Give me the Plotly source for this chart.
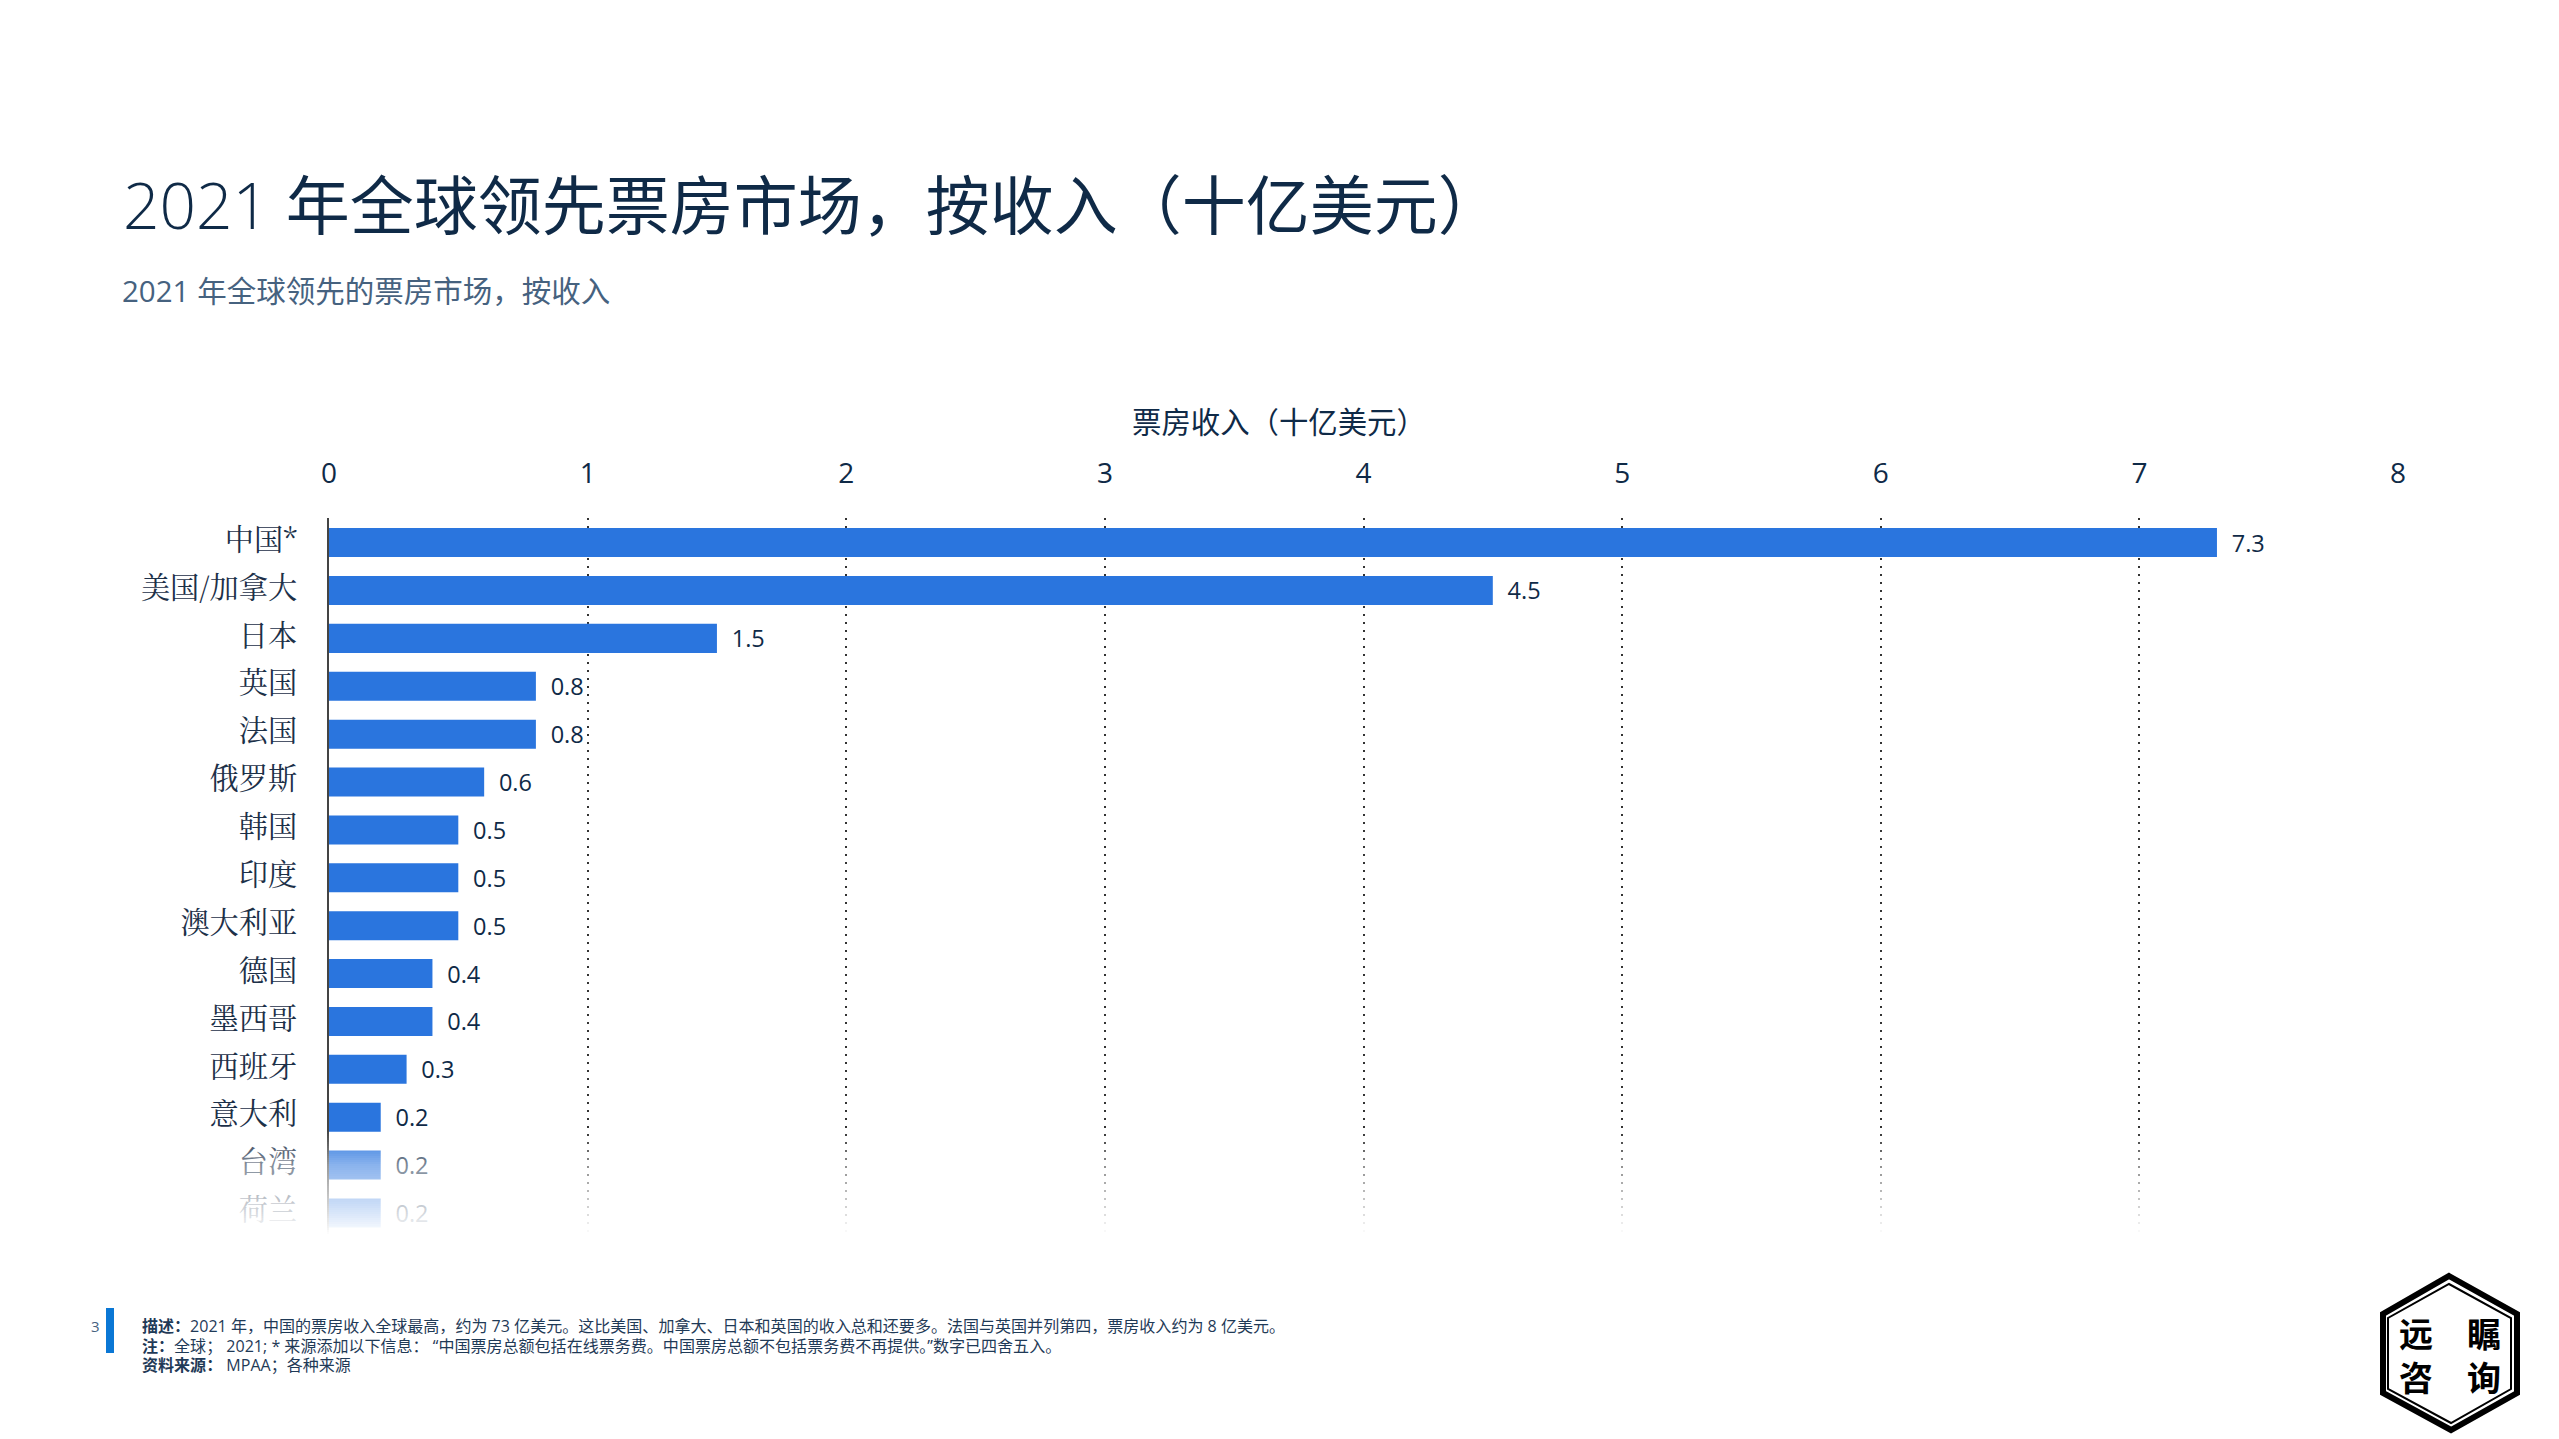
"""2021 leading box office markets, horizontal bars with a faded tail and a slide footer."""
import numpy as np
import plotly.graph_objects as go

W, H = 2559, 1439
PLOT_L, PLOT_R, PLOT_T, PLOT_B = 329, 2398, 518, 1235

INK = "#0f2a47"
BLUE = "#2a75de"
SANS = "Open Sans, Noto Sans CJK SC, sans-serif"
SERIF = "Noto Serif CJK SC, Liberation Serif, serif"
CJK = "Noto Sans CJK SC, sans-serif"

markets = ["中国*", "美国/加拿大", "日本", "英国", "法国", "俄罗斯", "韩国", "印度",
           "澳大利亚", "德国", "墨西哥", "西班牙", "意大利", "台湾", "荷兰"]
revenue = [7.3, 4.5, 1.5, 0.8, 0.8, 0.6, 0.5, 0.5, 0.5, 0.4, 0.4, 0.3, 0.2, 0.2, 0.2]
x_ticks = [0, 1, 2, 3, 4, 5, 6, 7, 8]

title_text = "<span style='font-weight:300'>2021 </span>年全球领先票房市场，按收入（十亿美元）"
subtitle_text = "2021 年全球领先的票房市场，按收入"
axis_text = "票房收入（十亿美元）"
footer_lines = [
    "<b>描述：</b>2021 年，中国的票房收入全球最高，约为 73 亿美元。这比美国、加拿大、日本和英国的收入总和还要多。法国与英国并列第四，票房收入约为 8 亿美元。",
    "<b>注：</b>全球； 2021; * 来源添加以下信息： “中国票房总额包括在线票务费。中国票房总额不包括票务费不再提供。”数字已四舍五入。",
    "<b>资料来源：</b> MPAA；各种来源",
]
logo_text = "<b>远\u2003瞩<br>咨\u2003询</b>"


def px(x):
    return (x - PLOT_L) / (PLOT_R - PLOT_L)


def py(y):
    return (PLOT_B - y) / (PLOT_B - PLOT_T)


def label(text, x, y, size, color=INK, family=SANS, anchor="left"):
    return dict(text=text, x=px(x), y=py(y), xref="paper", yref="paper", showarrow=False,
                xanchor=anchor, yanchor="middle", align=anchor,
                font=dict(size=size, color=color, family=family))


def hexagon(points, width):
    path = "M " + " L ".join(f"{px(x)} {py(y)}" for x, y in points) + " Z"
    return dict(type="path", path=path, xref="paper", yref="paper",
                line=dict(color="#000000", width=width))


fig = go.Figure(go.Bar(
    x=revenue, y=markets, orientation="h",
    marker=dict(color=BLUE, line_width=0),
    text=[f"\u2002{v}" for v in revenue], textposition="outside", cliponaxis=False,
    constraintext="none",
    textfont=dict(size=23.5, color=INK, family=SANS),
    width=0.606,
))

shapes = []

# white bands fade out the last two rows, plotly shapes have no gradient fill
band_tops = np.arange(1130, 1236, 2)
for top in band_tops:
    alpha = np.interp(top, [1130, 1164, 1212, 1234], [0.0, 0.45, 0.82, 1.0])
    shapes.append(dict(type="rect", xref="paper", yref="paper", layer="above",
                       x0=px(0), x1=px(W), y0=py(top), y1=py(top + 2),
                       fillcolor="#ffffff", opacity=float(alpha), line_width=0))

# footer marker
shapes.append(dict(type="rect", xref="paper", yref="paper",
                   x0=px(106), x1=px(114), y0=py(1308), y1=py(1353),
                   fillcolor="#0a77d5", line_width=0))

# logo
shapes.append(hexagon([(2449, 1276), (2517, 1314), (2517, 1393), (2451, 1430), (2383, 1393), (2383, 1314)], 6))
shapes.append(hexagon([(2449, 1284), (2511, 1318), (2511, 1389), (2451, 1423), (2388, 1389), (2388, 1318)], 2))

annotations = [
    label(title_text, 121, 204, 64),
    label(subtitle_text, 120, 291, 29.5, color="#46627f"),
    label(axis_text, 1279, 422, 29.4, anchor="center"),
    label("3", 95, 1326, 15, color="#46627f", anchor="center"),
    label(logo_text, 2450, 1354, 34, color="#000000", family=CJK, anchor="center"),
]
for i, line in enumerate(footer_lines):
    annotations.append(label(line, 140, 1326 + 19.5 * i, 16.05, color="#1f3a57"))

fig.update_layout(
    width=W, height=H, autosize=False,
    margin=dict(l=PLOT_L, r=W - PLOT_R, t=PLOT_T, b=H - PLOT_B, pad=0),
    paper_bgcolor="#ffffff", plot_bgcolor="#ffffff",
    showlegend=False, shapes=shapes, annotations=annotations,
    xaxis=dict(side="top", range=[0, 8], tickmode="array", tickvals=x_ticks,
               showgrid=True, gridcolor="#333333", gridwidth=1.5, griddash="2px,6px",
               zeroline=False, showline=False, ticks="",
               ticklabelstandoff=28,
               tickfont=dict(size=28, color=INK, family=SANS)),
    yaxis=dict(range=[14.46, -0.514], type="category", showgrid=False, zeroline=False,
               showline=True, linecolor="#444444", linewidth=2, ticks="",
               ticklabelstandoff=24, ticklabelshift=3,
               tickfont=dict(size=29.2, color="#1c3048", family=SERIF)),
)

fig.write_html("out.html", config={"displayModeBar": False},
               post_script="document.body.style.margin='0';")
